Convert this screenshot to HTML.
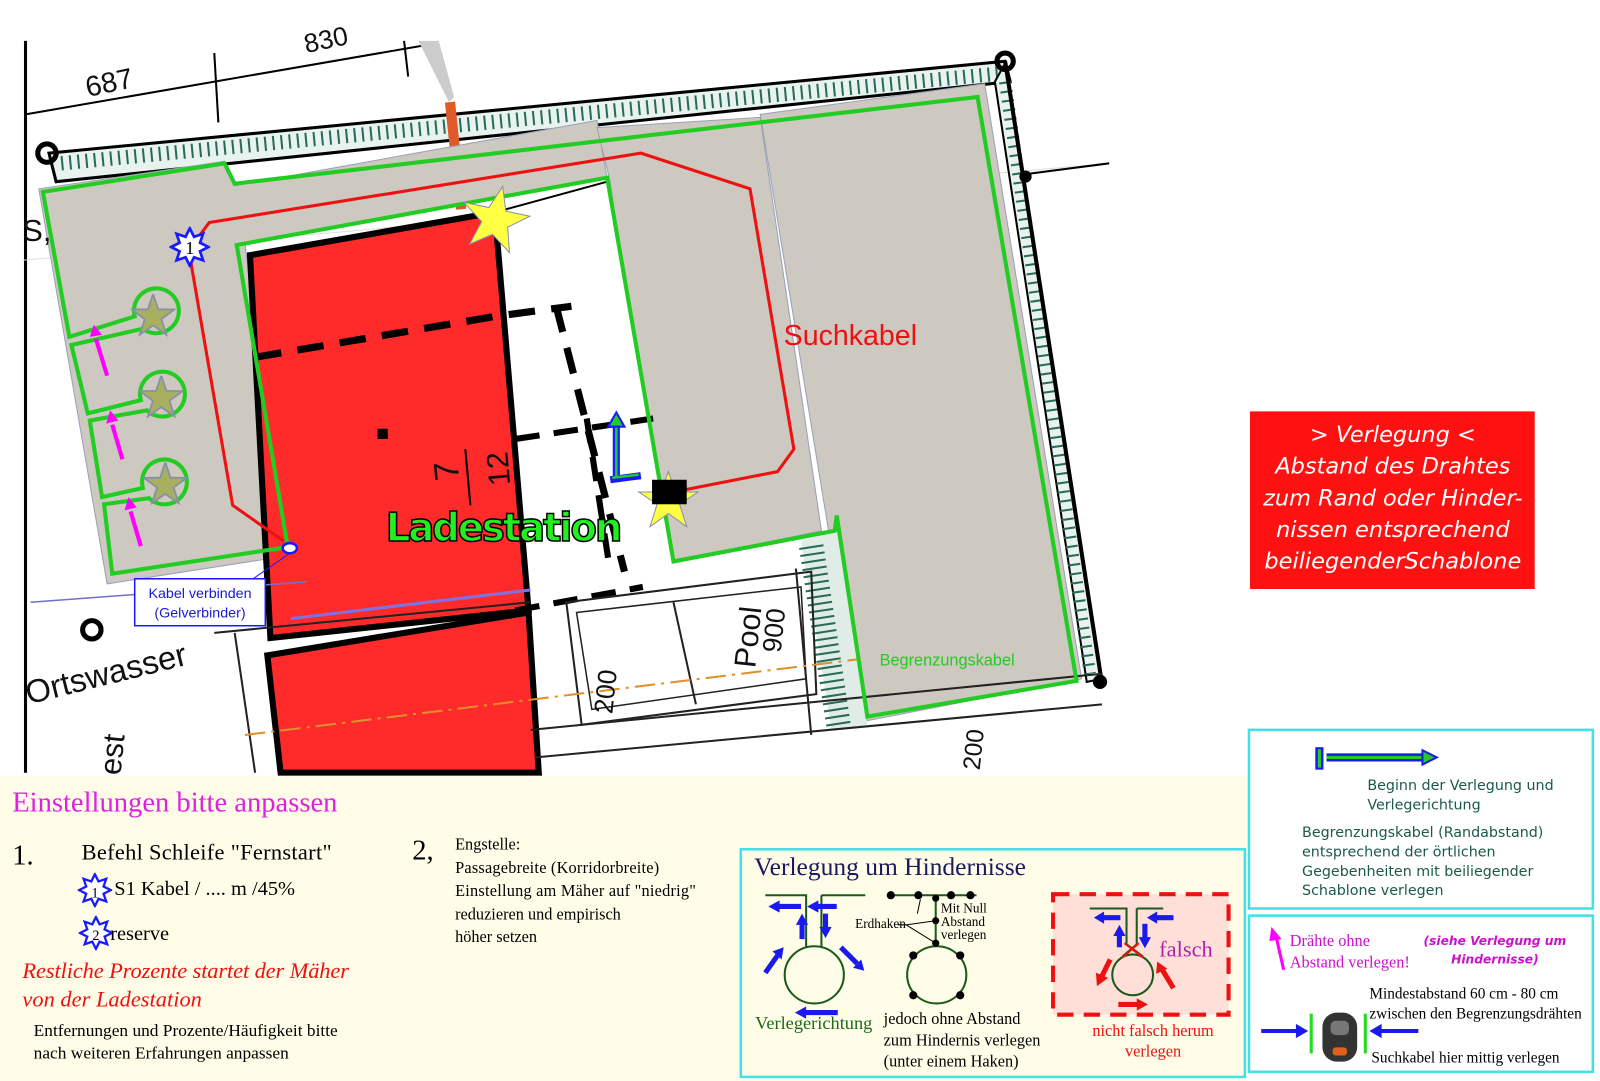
<!DOCTYPE html>
<html><head><meta charset="utf-8"><style>
html,body{margin:0;padding:0;background:#fff;overflow:hidden}
svg{display:block}
.s{font-family:"Liberation Serif",serif}
</style></head><body>
<svg width="1600" height="1081" viewBox="0 0 1568 1059" preserveAspectRatio="none" xmlns="http://www.w3.org/2000/svg">
<defs>
<symbol id="st" viewBox="-10 -10 20 20"><polygon points="0,-10 2.3,-3.2 9.5,-3.1 3.7,1.2 5.9,8.1 0,4 -5.9,8.1 -3.7,1.2 -9.5,-3.1 -2.3,-3.2" fill="#a8b060" stroke="#8890a8" stroke-width="0.8"/></symbol>
<symbol id="bs" viewBox="-12 -12 24 24"><polygon points="0,-11 2.5,-6 7.8,-7.8 6,-2.5 11,0 6,2.5 7.8,7.8 2.5,6 0,11 -2.5,6 -7.8,7.8 -6,2.5 -11,0 -6,-2.5 -7.8,-7.8 -2.5,-6" fill="#fff" stroke="#1a1aff" stroke-width="1.6"/></symbol>
</defs>
<rect width="1600" height="1081" fill="#fff"/>
<g>
<line x1="25" y1="40" x2="25" y2="757" stroke="#000" stroke-width="3"/>
<line x1="22" y1="255" x2="1087" y2="160" stroke="#ddd" stroke-width="1"/>
<line x1="25" y1="112" x2="430" y2="42" stroke="#000" stroke-width="2"/>
<line x1="210" y1="52" x2="214" y2="120" stroke="#000" stroke-width="2"/>
<line x1="396" y1="40" x2="400" y2="75" stroke="#000" stroke-width="2"/>
<text x="86" y="95" font-family="Liberation Sans" font-size="28" fill="#111" transform="rotate(-12 86 95)">687</text>
<text x="300" y="52" font-family="Liberation Sans" font-size="26" fill="#111" transform="rotate(-12 300 52)">830</text>
<polygon points="48,150 985,60 990,80 55,178" fill="#e8f2ee" stroke="#000" stroke-width="3"/>
<path d="M60,160 L980,72" stroke="#2a6a5a" stroke-width="14" stroke-dasharray="2 6" fill="none"/>
<polygon points="985,62 1080,665 1065,668 975,80" fill="#e8f2ee" stroke="#000" stroke-width="2"/>
<path d="M985,80 L1068,660" stroke="#2a6a5a" stroke-width="12" stroke-dasharray="2 7" fill="none"/>
<line x1="985" y1="60" x2="1080" y2="670" stroke="#000" stroke-width="4"/>
<line x1="1010" y1="170" x2="1087" y2="160" stroke="#000" stroke-width="2"/>
<circle cx="46" cy="150" r="9" fill="none" stroke="#000" stroke-width="5"/>
<circle cx="985" cy="60" r="8" fill="none" stroke="#000" stroke-width="5"/>
<circle cx="1005" cy="173" r="6" fill="#000"/>
<circle cx="1078" cy="668" r="7" fill="#000"/>
<circle cx="90" cy="617" r="9" fill="none" stroke="#000" stroke-width="5"/>
<line x1="441" y1="100" x2="452" y2="205" stroke="#e05a2a" stroke-width="10"/>
<polygon points="410,40 430,40 445,95 440,100" fill="#ccc"/>
<polygon points="38,185 220,158 230,182 585,118 595,175 240,238 278,545 105,572" fill="#cdc8c0" stroke="#9aa0b8" stroke-width="1"/>
<polygon points="585,125 745,115 805,520 660,550 640,485 598,178" fill="#cdc8c0" stroke="#9aa0b8" stroke-width="1"/>
<polygon points="745,112 965,82 1060,665 850,706 812,520" fill="#cdc8c0" stroke="#9aa0b8" stroke-width="1"/>
<polygon points="785,530 820,520 850,710 815,715" fill="#e0ece6"/>
<path d="M795,535 L822,712" stroke="#2a6a5a" stroke-width="24" stroke-dasharray="2 5" fill="none"/>
<polygon points="485,208 595,178 660,552 520,595" fill="#fff"/>
<line x1="485" y1="208" x2="595" y2="178" stroke="#000" stroke-width="2"/>
<polygon points="245,250 485,208 518,598 265,625" fill="#ff2b2b" stroke="#000" stroke-width="6"/>
<polygon points="262,642 518,600 528,757 275,757" fill="#ff2b2b" stroke="#000" stroke-width="6"/>
<path d="M250,350 L485,310 L560,300" stroke="#000" stroke-width="7" stroke-dasharray="26 16" fill="none"/>
<path d="M545,300 L612,560" stroke="#000" stroke-width="7" stroke-dasharray="26 16" fill="none"/>
<path d="M505,430 L640,410 M575,410 L598,560 M505,598 L630,575" stroke="#000" stroke-width="6" stroke-dasharray="24 14" fill="none"/>
<rect x="370" y="420" width="10" height="10" fill="#000"/>
<text x="0" y="0" font-family="Liberation Sans" font-size="34" fill="#111" transform="translate(450,470) rotate(-95)">7</text>
<line x1="456" y1="440" x2="461" y2="495" stroke="#000" stroke-width="2"/>
<text x="0" y="0" font-family="Liberation Sans" font-size="30" fill="#111" transform="translate(500,475) rotate(-95)">12</text>
<polygon points="555,590 795,560 800,680 570,710" fill="none" stroke="#222" stroke-width="2"/>
<polygon points="565,600 785,575 790,665 580,695" fill="none" stroke="#222" stroke-width="1.5"/>
<line x1="660" y1="590" x2="682" y2="690" stroke="#222" stroke-width="2"/>
<line x1="520" y1="715" x2="1080" y2="660" stroke="#222" stroke-width="2"/>
<line x1="525" y1="742" x2="1080" y2="690" stroke="#222" stroke-width="2"/>
<line x1="210" y1="620" x2="520" y2="590" stroke="#222" stroke-width="2"/>
<line x1="780" y1="557" x2="795" y2="720" stroke="#222" stroke-width="2"/>
<line x1="230" y1="620" x2="250" y2="757" stroke="#222" stroke-width="2"/>
<line x1="240" y1="720" x2="840" y2="646" stroke="#e0902a" stroke-width="2" stroke-dasharray="20 6 3 6"/>
<text font-family="Liberation Sans" font-size="30" fill="#111" transform="translate(740,655) rotate(-84)">Pool</text>
<text font-family="Liberation Sans" font-size="26" fill="#111" transform="translate(765,640) rotate(-84)">900</text>
<text font-family="Liberation Sans" font-size="26" fill="#111" transform="translate(600,700) rotate(-84)">200</text>
<text font-family="Liberation Sans" font-size="24" fill="#111" transform="translate(960,755) rotate(-84)">200</text>
<text font-family="Liberation Sans" font-size="32" fill="#111" transform="translate(28,690) rotate(-14)">Ortswasser</text>
<text font-family="Liberation Sans" font-size="30" fill="#111" transform="translate(118,760) rotate(-84)">est</text>
<text font-family="Liberation Sans" font-size="30" fill="#111" x="22" y="236">S,</text>
<line x1="30" y1="590" x2="300" y2="570" stroke="#7070d0" stroke-width="1.5"/>
<line x1="285" y1="606" x2="520" y2="578" stroke="#8070e0" stroke-width="3"/>
<path d="M232,240 L595,174 L660,550 L818,520 L820,505 L850,702 L1055,667 L958,95 L230,180 L220,160 L42,188 L68,330 L132,310 A22,22 0 1 1 140,322 L70,338 L86,405 L138,392 A22,22 0 1 1 144,402 L88,412 L100,487 L140,478 A22,22 0 1 1 146,488 L102,494 L110,562 L282,536 Z" fill="none" stroke="#22cc22" stroke-width="4"/>
<use href="#st" x="128" y="288" width="44" height="44"/>
<use href="#st" x="136" y="368" width="44" height="44"/>
<use href="#st" x="140" y="453" width="44" height="44"/>
<g stroke="#ff00ff" stroke-width="4" fill="#ff00ff">
<line x1="105" y1="368" x2="94" y2="332"/><polygon points="88,330 100,328 92,318" stroke="none"/>
<line x1="120" y1="450" x2="110" y2="416"/><polygon points="104,415 116,412 108,402" stroke="none"/>
<line x1="138" y1="535" x2="128" y2="501"/><polygon points="122,500 134,497 126,487" stroke="none"/>
</g>
<path d="M278,530 L228,495 L185,245 L205,218 L628,150 L735,185 L778,440 L762,462 L670,480" fill="none" stroke="#ee1111" stroke-width="3"/>
<polygon points="486,182 494,205 518,205 499,220 506,244 486,230 466,244 473,220 452,205 477,205" fill="#ffff44" stroke="#8890a8" stroke-width="1" transform="rotate(12 486 214)"/>
<polygon points="655,458 662,478 684,478 666,490 673,512 655,499 637,512 644,490 626,478 648,478" fill="#ffff44" stroke="#8890a8" stroke-width="1" transform="translate(0,4)"/>
<rect x="639" y="470" width="34" height="24" fill="#000"/>
<use href="#bs" x="166" y="222" width="40" height="40"/>
<text x="186" y="249" class="s" font-size="18" text-anchor="middle">1</text>
<path d="M604,470 L604,415 M598,470 L628,466" stroke="#1a1aff" stroke-width="7" fill="none"/>
<path d="M604,468 L604,415 M600,468 L626,465" stroke="#22cc22" stroke-width="2.5" fill="none"/>
<polygon points="596,418 604,404 612,418" fill="#22cc22" stroke="#1a1aff" stroke-width="2"/>
<ellipse cx="284" cy="537" rx="7" ry="5" fill="#fff" stroke="#1a1aff" stroke-width="2.5"/>
<line x1="284" y1="542" x2="248" y2="567" stroke="#1a1aff" stroke-width="1"/>
<rect x="132" y="567" width="128" height="46" fill="#fff" stroke="#1a1aff" stroke-width="1.5"/>
<text x="196" y="586" font-family="Liberation Sans" font-size="14" fill="#1a1acc" text-anchor="middle">Kabel verbinden</text>
<text x="196" y="605" font-family="Liberation Sans" font-size="14" fill="#1a1acc" text-anchor="middle">(Gelverbinder)</text>
<text x="768" y="338" font-family="Liberation Sans" font-size="28" fill="#ee1111">Suchkabel</text>
<text x="378" y="530" font-family="DejaVu Sans" font-weight="bold" font-size="38" fill="#22ee22" stroke="#000" stroke-width="1.5" textLength="232">Ladestation</text>
<text x="862" y="652" font-family="Liberation Sans" font-size="16" fill="#22cc22">Begrenzungskabel</text>
</g>
<rect x="1225" y="403" width="279" height="174" fill="#ff1111"/>
<g font-family="DejaVu Sans" font-style="italic" font-size="22" fill="#fff" text-anchor="middle">
<text x="1365" y="433">&gt; Verlegung &lt;</text>
<text x="1365" y="464">Abstand des Drahtes</text>
<text x="1365" y="495">zum Rand oder Hinder-</text>
<text x="1365" y="526">nissen entsprechend</text>
<text x="1365" y="557">beiliegenderSchablone</text>
</g>
<rect x="0" y="760" width="1222" height="321" fill="#fffde8"/>
<text x="12" y="795" class="s" font-size="28" fill="#e020e0">Einstellungen bitte anpassen</text>
<text x="12" y="847" class="s" font-size="28">1.</text>
<text x="80" y="842" class="s" font-size="22" textLength="245">Befehl Schleife "Fernstart"</text>
<use href="#bs" x="76" y="855" width="34" height="34"/>
<text x="93" y="879" class="s" font-size="14" text-anchor="middle">1</text>
<text x="112" y="877" class="s" font-size="20">S1 Kabel / .... m /45%</text>
<use href="#bs" x="77" y="897" width="34" height="34"/>
<text x="94" y="921" class="s" font-size="14" text-anchor="middle">2</text>
<text x="108" y="921" class="s" font-size="20">reserve</text>
<text x="22" y="958" class="s" font-style="italic" font-size="22" fill="#ee1111" textLength="320">Restliche Prozente  startet der Mäher</text>
<text x="22" y="986" class="s" font-style="italic" font-size="22" fill="#ee1111">von der Ladestation</text>
<text x="33" y="1015" class="s" font-size="17" textLength="298">Entfernungen und Prozente/Häufigkeit bitte</text>
<text x="33" y="1037" class="s" font-size="17" textLength="250">nach weiteren Erfahrungen anpassen</text>
<text x="404" y="842" class="s" font-size="28">2,</text>
<g class="s" font-size="16">
<text x="446" y="832">Engstelle:</text>
<text x="446" y="855" textLength="200">Passagebreite (Korridorbreite)</text>
<text x="446" y="878" textLength="236">Einstellung am Mäher auf "niedrig"</text>
<text x="446" y="901">reduzieren und empirisch</text>
<text x="446" y="923">höher setzen</text>
</g>
<rect x="726" y="832" width="494" height="223" fill="#fffde8" stroke="#44e0e8" stroke-width="2.5"/>
<text x="739" y="857" class="s" font-size="25" fill="#1a1a60">Verlegung um Hindernisse</text>
<g fill="none" stroke="#1a5a1a" stroke-width="2">
<path d="M750,877 L790,877 L790,928 M805,877 L848,877 M805,877 L805,928"/>
<ellipse cx="798" cy="955" rx="29" ry="28"/>
<path d="M871,877 L957,877 M917,877 L917,926"/>
<ellipse cx="918" cy="955" rx="29" ry="28"/>
</g>
<g fill="#000"><circle cx="873" cy="877" r="4"/><circle cx="900" cy="877" r="4"/><circle cx="932" cy="877" r="4"/><circle cx="951" cy="877" r="4"/><circle cx="917" cy="880" r="3.5"/><circle cx="917" cy="902" r="3.5"/><circle cx="917" cy="924" r="3.5"/><circle cx="895" cy="936" r="4"/><circle cx="941" cy="936" r="4"/><circle cx="895" cy="975" r="4"/><circle cx="941" cy="975" r="4"/></g>
<path d="M902,881 L899,895 M880,906 L888,906 L917,902 M888,906 L917,924" stroke="#000" stroke-width="1" fill="none"/>
<g class="s" font-size="13"><text x="922" y="894">Mit Null</text><text x="922" y="907">Abstand</text><text x="922" y="920">verlegen</text><text x="838" y="909">Erdhaken</text></g>
<g fill="#1a1aee" stroke="#1a1aee" stroke-width="5">
<line x1="785" y1="888" x2="762" y2="888"/><polygon points="753,888 764,882 764,894" stroke="none"/>
<line x1="820" y1="888" x2="800" y2="888"/><polygon points="791,888 802,882 802,894" stroke="none"/>
<line x1="786" y1="920" x2="786" y2="904"/><polygon points="786,895 780,906 792,906" stroke="none"/>
<line x1="809" y1="895" x2="809" y2="910"/><polygon points="809,919 803,908 815,908" stroke="none"/>
<line x1="750" y1="953" x2="762" y2="936"/><polygon points="768,928 757,932 766,940" stroke="none"/>
<line x1="824" y1="928" x2="840" y2="944"/><polygon points="847,951 836,948 844,940" stroke="none"/>
<line x1="821" y1="992" x2="788" y2="992"/><polygon points="779,992 790,986 790,998" stroke="none"/>
</g>
<rect x="1032" y="876" width="172" height="118" fill="#ffcccc" fill-opacity="0.6" stroke="#ee1111" stroke-width="4" stroke-dasharray="16 10"/>
<g fill="none" stroke="#1a5a1a" stroke-width="2">
<path d="M1068,890 L1104,890 L1104,925 L1120,937 M1114,890 L1140,890 M1114,890 L1114,925 L1100,937"/>
<circle cx="1110" cy="955" r="20"/>
</g>
<path d="M1102,924 L1120,938 M1116,924 L1100,938" stroke="#ee1111" stroke-width="2"/>
<g fill="#1a1aee" stroke="#1a1aee" stroke-width="5">
<line x1="1098" y1="899" x2="1080" y2="899"/><polygon points="1072,899 1082,893 1082,905" stroke="none"/>
<line x1="1150" y1="899" x2="1132" y2="899"/><polygon points="1124,899 1134,893 1134,905" stroke="none"/>
<line x1="1097" y1="928" x2="1097" y2="915"/><polygon points="1097,906 1091,917 1103,917" stroke="none"/>
<line x1="1122" y1="905" x2="1122" y2="920"/><polygon points="1122,929 1116,918 1128,918" stroke="none"/>
</g>
<g fill="#ee1111" stroke="#ee1111" stroke-width="5">
<line x1="1088" y1="940" x2="1080" y2="956"/><polygon points="1075,966 1074,953 1086,958" stroke="none"/>
<line x1="1150" y1="968" x2="1139" y2="950"/><polygon points="1134,942 1133,954 1144,949" stroke="none"/>
<line x1="1096" y1="984" x2="1116" y2="984"/><polygon points="1125,984 1114,978 1114,990" stroke="none"/>
</g>
<text x="1136" y="937" class="s" font-size="22" fill="#b020b0">falsch</text>
<text x="740" y="1008" class="s" font-size="18" fill="#1a6a1a">Verlegerichtung</text>
<g class="s" font-size="16"><text x="866" y="1003">jedoch ohne Abstand</text><text x="866" y="1024">zum Hindernis verlegen</text><text x="866" y="1045">(unter einem Haken)</text></g>
<g class="s" font-size="16" fill="#ee1111" text-anchor="middle"><text x="1130" y="1015">nicht falsch herum</text><text x="1130" y="1035">verlegen</text></g>
<rect x="1224" y="715" width="337" height="175" fill="#fff" stroke="#44e0e8" stroke-width="2.5"/>
<path d="M1300,742 L1396,742" stroke="#1a1aee" stroke-width="8"/>
<path d="M1300,742 L1396,742" stroke="#22cc22" stroke-width="3"/>
<path d="M1293,732 L1293,754" stroke="#1a1aee" stroke-width="8"/><path d="M1293,734 L1293,752" stroke="#22cc22" stroke-width="3"/>
<polygon points="1394,735 1408,742 1394,749" fill="#22cc22" stroke="#1a1aee" stroke-width="2"/>
<g font-family="DejaVu Sans" font-size="14" fill="#1a5a4a">
<text x="1340" y="774">Beginn der Verlegung und</text><text x="1340" y="793">Verlegerichtung</text>
<text x="1276" y="820">Begrenzungskabel (Randabstand)</text><text x="1276" y="839">entsprechend der örtlichen</text><text x="1276" y="858">Gegebenheiten mit beiliegender</text><text x="1276" y="877">Schablone verlegen</text>
</g>
<rect x="1224" y="897" width="337" height="153" fill="#fff" stroke="#44e0e8" stroke-width="2.5"/>
<path d="M1258,950 L1250,915" stroke="#ff00ff" stroke-width="3"/><polygon points="1246,908 1244,922 1256,920" fill="#ff00ff"/>
<g class="s" font-size="16" fill="#cc10cc"><text x="1264" y="927">Drähte ohne</text><text x="1264" y="948">Abstand verlegen!</text></g>
<g font-family="DejaVu Sans" font-style="italic" font-weight="bold" font-size="12" fill="#cc10cc" text-anchor="middle"><text x="1465" y="926">(siehe Verlegung um</text><text x="1465" y="944">Hindernisse)</text></g>
<g class="s" font-size="15"><text x="1342" y="978">Mindestabstand 60 cm - 80 cm</text><text x="1342" y="998">zwischen den Begrenzungsdrähten</text><text x="1344" y="1041">Suchkabel hier mittig verlegen</text></g>
<line x1="1285" y1="993" x2="1285" y2="1032" stroke="#22dd22" stroke-width="3"/>
<line x1="1338" y1="993" x2="1338" y2="1032" stroke="#22dd22" stroke-width="3"/>
<path d="M1236,1010 L1272,1010" stroke="#1a1aee" stroke-width="4"/><polygon points="1282,1010 1270,1003 1270,1017" fill="#1a1aee"/>
<path d="M1390,1010 L1352,1010" stroke="#1a1aee" stroke-width="4"/><polygon points="1342,1010 1354,1003 1354,1017" fill="#1a1aee"/>
<rect x="1296" y="992" width="34" height="48" rx="14" fill="#333"/>
<rect x="1304" y="1000" width="18" height="14" rx="5" fill="#777"/>
<rect x="1306" y="1026" width="14" height="8" rx="3" fill="#e06020"/>
</svg>
</body></html>
